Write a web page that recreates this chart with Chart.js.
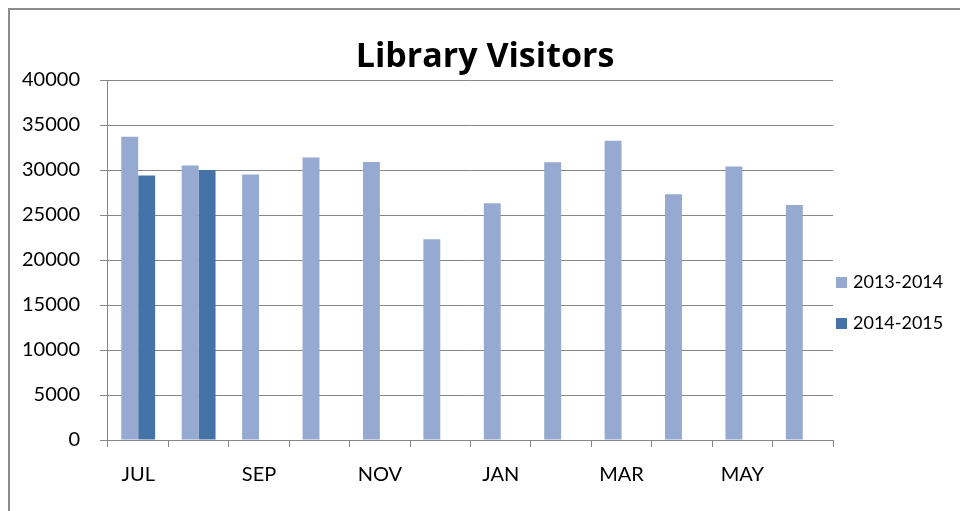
<!DOCTYPE html>
<html>
<head>
<meta charset="utf-8">
<title>Library Visitors</title>
<script src="https://cdn.jsdelivr.net/npm/chart.js@4.4.1/dist/chart.umd.min.js"></script>
<style>
  body { margin: 0; background: #fff; }
  #wrap { position: relative; width: 960px; height: 511px; overflow: hidden; }
  #frame { position: absolute; left: 8px; top: 8px; width: 1000px; height: 600px;
           border-top: 2px solid #8c8c8c; border-left: 2px solid #8c8c8c; }
  #mycanvas { position: absolute; left: 0; top: 0; }
</style>
</head>
<body>
<div id="wrap">
  <div id="frame"></div>
  <canvas id="mycanvas" width="960" height="511"></canvas>
</div>
<script>
// months of the library year, JUL to JUN
var months = ["JUL", "AUG", "SEP", "OCT", "NOV", "DEC", "JAN", "FEB", "MAR", "APR", "MAY", "JUN"];
// visitors per month
var visitors1314 = [33700, 30500, 29500, 31400, 30900, 22300, 26300, 30850, 33250, 27300, 30400, 26100];
var visitors1415 = [29400, 30000, null, null, null, null, null, null, null, null, null, null];
var seriesNames = ["2013-2014", "2014-2015"];
var yTicks = [0, 5000, 10000, 15000, 20000, 25000, 30000, 35000, 40000];

var fontName = "Lato, 'Open Sans', sans-serif";
var gridGrey = "#868686";

// draws the title and the legend the way the spreadsheet did
var titleAndLegend = {
  id: "titleAndLegend",
  afterDraw: function(chart) {
    var ctx = chart.ctx;
    var area = chart.chartArea;
    ctx.save();
    ctx.fillStyle = "#000";
    ctx.font = "bold 34px 'Open Sans', Lato, sans-serif";
    ctx.textAlign = "center";
    ctx.textBaseline = "alphabetic";
    ctx.fillText("Library Visitors", 485, 67);

    // legend, right of the plot
    ctx.font = "18px " + fontName;
    ctx.textAlign = "left";
    ctx.textBaseline = "middle";
    chart.data.datasets.forEach(function(ds, i) {
      var y = 282 + i * 41;
      ctx.fillStyle = ds.backgroundColor;
      ctx.fillRect(area.right + 3, y - 5, 11, 11);
      ctx.fillStyle = "#000";
      ctx.fillText(ds.label, area.right + 20, y);
    });
    ctx.restore();
  }
};

var chartdata = {
  labels: months,
  datasets: [
    {
      label: seriesNames[0],
      backgroundColor: "#95A9D1",
      data: visitors1314,
      categoryPercentage: 0.56,
      barPercentage: 1.0
    },
    {
      label: seriesNames[1],
      backgroundColor: "#4673A7",
      data: visitors1415,
      categoryPercentage: 0.56,
      barPercentage: 1.0
    }
  ]
};

var x = document.getElementById("mycanvas");

var barGraph = new Chart(x, {
  type: "bar",
  data: chartdata,
  options: {
    responsive: false,
    animation: false,
    layout: { padding: { left: 2, right: 127, top: 80, bottom: 8 } },
    plugins: {
      legend: { display: false },
      title: { display: false },
      tooltip: { enabled: false }
    },
    scales: {
      x: {
        offset: true,
        grid: { offset: true, drawOnChartArea: false, drawTicks: true, tickLength: 7, color: gridGrey },
        border: { color: gridGrey },
        ticks: {
          autoSkip: false,
          maxRotation: 0,
          padding: 16,
          color: "#000",
          font: { family: fontName, size: 20 },
          // every other month is written, like the original
          callback: function(value, index) {
            return index % 2 === 0 ? months[index] : "";
          }
        }
      },
      y: {
        min: yTicks[0],
        max: yTicks[yTicks.length - 1],
        afterBuildTicks: function(axis) {
          axis.ticks = yTicks.map(function(v) { return { value: v }; });
        },
        grid: { color: gridGrey, tickLength: 8 },
        border: { color: gridGrey },
        ticks: {
          padding: 20,
          color: "#000",
          font: { family: fontName, size: 20 },
          callback: function(value) { return String(value); }
        }
      }
    }
  },
  plugins: [titleAndLegend]
});
</script>
</body>
</html>
